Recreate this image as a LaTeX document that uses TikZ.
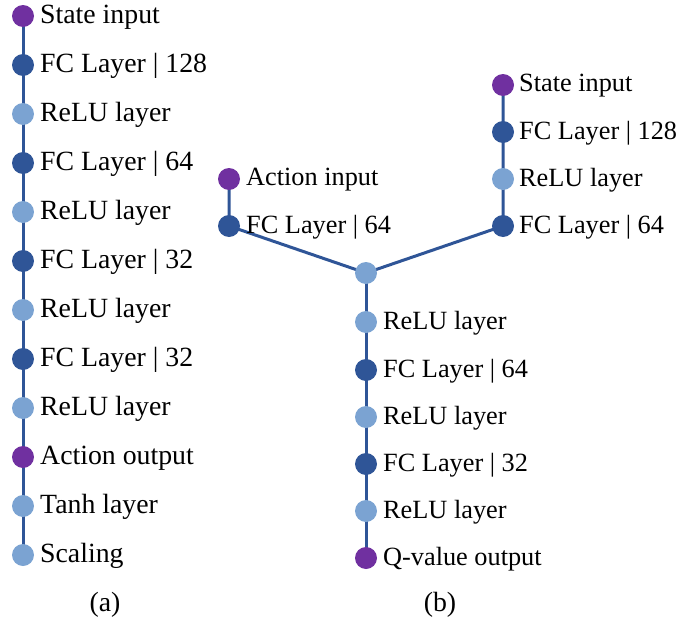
\documentclass[tikz,border=0pt]{standalone}
\usepackage{fontspec}
\setmainfont{Liberation Serif}
\definecolor{io}{HTML}{7030A0}
\definecolor{fc}{HTML}{2F5597}
\definecolor{act}{HTML}{7BA3D2}
\definecolor{wire}{HTML}{2F5597}
\begin{document}
\begin{tikzpicture}[x=1pt,y=-1pt,
  dot/.style={circle,inner sep=0pt,minimum size=22pt,draw=none},
  iodot/.style={dot,fill=io},
  fcdot/.style={dot,fill=fc},
  actdot/.style={dot,fill=act},
  lbl/.style={anchor=west,inner sep=0pt,yshift=-1pt,font=\fontsize{27.8}{30}\selectfont},
  lblb/.style={lbl,font=\fontsize{26.3}{28}\selectfont},
  link/.style={draw=wire,line width=3pt}]
\useasboundingbox (0,0) rectangle (681,624);

% (a) actor network
\begin{scope}
\foreach \n/\y in {a1/16,a2/65,a3/114,a4/163,a5/212,a6/261,
                   a7/310,a8/359,a9/408,a10/457,a11/506,a12/555}
  \path (23,\y) coordinate (\n);
\draw[link] (a1) -- (a12);
\foreach \n/\y/\s/\t in {a1/16/iodot/State input,
                         a2/65/fcdot/FC Layer | 128,
                         a3/114/actdot/ReLU layer,
                         a4/163/fcdot/FC Layer | 64,
                         a5/212/actdot/ReLU layer,
                         a6/261/fcdot/FC Layer | 32,
                         a7/310/actdot/ReLU layer,
                         a8/359/fcdot/FC Layer | 32,
                         a9/408/actdot/ReLU layer,
                         a10/457/iodot/Action output,
                         a11/506/actdot/Tanh layer,
                         a12/555/actdot/Scaling}
{
  \node[\s] (n\n) at (\n) {};
  \node[lbl] (t\n) at (40,\y) {\t};
}
\node[font=\fontsize{27.8}{30}\selectfont] (capa) at (105,605) {(a)};
\end{scope}

% (b) critic network
\coordinate (s1) at (503,85);
\coordinate (s2) at (503,132);
\coordinate (s3) at (503,179);
\coordinate (s4) at (503,226);
\coordinate (c1) at (229,179);
\coordinate (c2) at (229,226);
\coordinate (m0) at (366,273);
\coordinate (m1) at (366,322);
\coordinate (m2) at (366,370);
\coordinate (m3) at (366,417);
\coordinate (m4) at (366,464);
\coordinate (m5) at (366,511);
\coordinate (m6) at (366,558);

\draw[link] (s1) -- (s4) -- (m0);
\draw[link] (c1) -- (c2) -- (m0);
\draw[link] (m0) -- (m6);

\node[iodot]  (ns1) at (s1) {};
\node[fcdot]  (ns2) at (s2) {};
\node[actdot] (ns3) at (s3) {};
\node[fcdot]  (ns4) at (s4) {};
\node[iodot]  (nc1) at (c1) {};
\node[fcdot]  (nc2) at (c2) {};
\node[actdot] (nm0) at (m0) {};
\node[actdot] (nm1) at (m1) {};
\node[fcdot]  (nm2) at (m2) {};
\node[actdot] (nm3) at (m3) {};
\node[fcdot]  (nm4) at (m4) {};
\node[actdot] (nm5) at (m5) {};
\node[iodot]  (nm6) at (m6) {};

\node[lblb] (ts1) at (519,85)  {State input};
\node[lblb] (ts2) at (519,132) {FC Layer | 128};
\node[lblb] (ts3) at (519,179) {ReLU layer};
\node[lblb] (ts4) at (519,226) {FC Layer | 64};
\node[lblb] (tc1) at (246,179) {Action input};
\node[lblb] (tc2) at (246,226) {FC Layer | 64};
\node[lblb] (tm1) at (383,322) {ReLU layer};
\node[lblb] (tm2) at (383,370) {FC Layer | 64};
\node[lblb] (tm3) at (383,417) {ReLU layer};
\node[lblb] (tm4) at (383,464) {FC Layer | 32};
\node[lblb] (tm5) at (383,511) {ReLU layer};
\node[lblb] (tm6) at (383,558) {Q-value output};
\node[font=\fontsize{27.8}{30}\selectfont] (capb) at (440,605) {(b)};
\end{tikzpicture}
\end{document}
